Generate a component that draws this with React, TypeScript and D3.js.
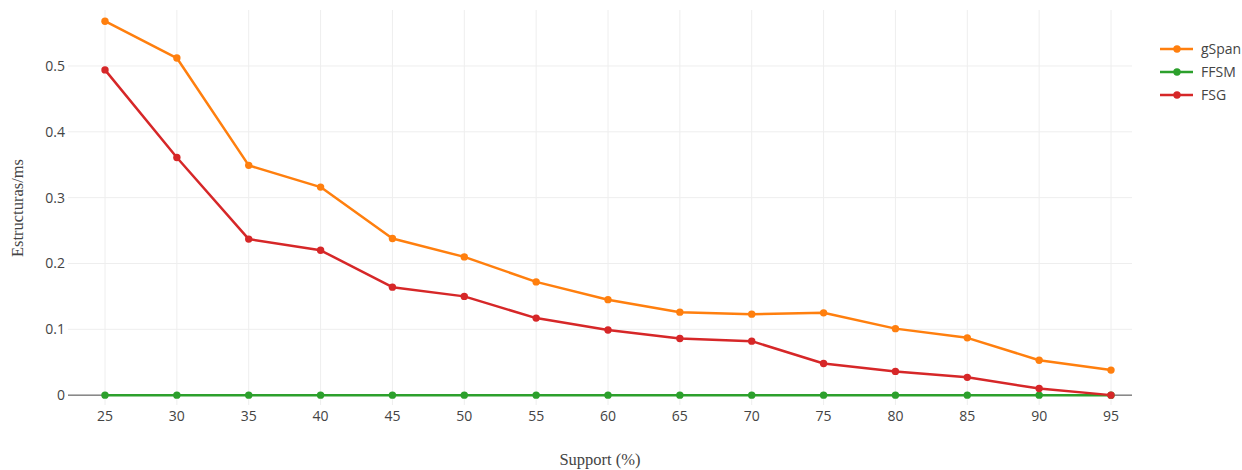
import React from "react";
import * as d3 from "d3";

// Support thresholds (%)
const supports = [25, 30, 35, 40, 45, 50, 55, 60, 65, 70, 75, 80, 85, 90, 95];

// Structures found per millisecond for each algorithm
const gSpan = [0.568, 0.512, 0.349, 0.316, 0.238, 0.210, 0.172, 0.145, 0.126, 0.123, 0.125, 0.101, 0.087, 0.053, 0.038];
const FFSM = [0, 0, 0, 0, 0, 0, 0, 0, 0, 0, 0, 0, 0, 0, 0];
const FSG = [0.494, 0.361, 0.237, 0.220, 0.164, 0.150, 0.117, 0.099, 0.086, 0.082, 0.048, 0.036, 0.027, 0.010, 0];

const yTicks = [0, 0.1, 0.2, 0.3, 0.4, 0.5];

const series = [
  { name: "gSpan", values: gSpan, color: "#ff7f0e" },
  { name: "FFSM", values: FFSM, color: "#2ca02c" },
  { name: "FSG", values: FSG, color: "#d62728" },
];

const W = 1242;
const H = 470;
const plot = { left: 68, right: 1132, top: 10, bottom: 405 };

export default function App() {
  const x = d3.scaleLinear().domain([25, 95]).range([105, 1111]);
  const y = d3.scaleLinear().domain([-0.015, 0.585]).range([plot.bottom, plot.top]);

  const line = d3
    .line<number>()
    .x((_, i) => x(supports[i]))
    .y((d) => y(d));

  const tickFont = "'Open Sans', sans-serif";
  const titleFont = "'Liberation Serif', 'Times New Roman', serif";

  return (
    <svg
      width={W}
      height={H}
      style={{ position: "absolute", left: 0, top: 0, background: "#fff" }}
    >
      {/* vertical grid */}
      {supports.map((s) => (
        <line
          key={"vg" + s}
          x1={x(s)}
          x2={x(s)}
          y1={plot.top}
          y2={plot.bottom}
          stroke="#eee"
          strokeWidth={1}
        />
      ))}
      {/* horizontal grid */}
      {yTicks
        .filter((t) => t !== 0)
        .map((t) => (
          <line
            key={"hg" + t}
            x1={plot.left}
            x2={plot.right}
            y1={y(t)}
            y2={y(t)}
            stroke="#eee"
            strokeWidth={1}
          />
        ))}
      {/* zero line */}
      <line x1={plot.left} x2={plot.right} y1={y(0)} y2={y(0)} stroke="#444" strokeWidth={1} />

      {/* y tick labels */}
      {yTicks.map((t) => (
        <text
          key={"yt" + t}
          x={65}
          y={y(t)}
          dy="0.35em"
          textAnchor="end"
          fontFamily={tickFont}
          fontSize={14}
          fill="#444"
        >
          {t === 0 ? "0" : d3.format(".1f")(t)}
        </text>
      ))}
      {/* x tick labels */}
      {supports.map((s) => (
        <text
          key={"xt" + s}
          x={x(s)}
          y={421}
          textAnchor="middle"
          fontFamily={tickFont}
          fontSize={14}
          fill="#444"
        >
          {s}
        </text>
      ))}

      {/* series */}
      {series.map((s) => (
        <g key={s.name}>
          <path d={line(s.values) || ""} fill="none" stroke={s.color} strokeWidth={2.5} strokeLinejoin="round" />
          {s.values.map((v, i) => (
            <circle key={i} cx={x(supports[i])} cy={y(v)} r={3.7} fill={s.color} />
          ))}
        </g>
      ))}

      {/* axis titles */}
      <text
        x={600}
        y={465}
        textAnchor="middle"
        fontFamily={titleFont}
        fontSize={16.5}
        fill="#444"
      >
        Support (%)
      </text>
      <text
        transform={`translate(23, 208) rotate(-90)`}
        textAnchor="middle"
        fontFamily={titleFont}
        fontSize={16.5}
        fill="#444"
      >
        Estructuras/ms
      </text>

      {/* legend */}
      {series.map((s, i) => {
        const ly = 49 + i * 23;
        return (
          <g key={"lg" + s.name}>
            <line x1={1160} x2={1193} y1={ly} y2={ly} stroke={s.color} strokeWidth={2.5} />
            <circle cx={1177} cy={ly} r={3.7} fill={s.color} />
            <text
              x={1201}
              y={ly}
              dy="0.35em"
              fontFamily={tickFont}
              fontSize={14}
              fill="#444"
            >
              {s.name}
            </text>
          </g>
        );
      })}
    </svg>
  );
}
